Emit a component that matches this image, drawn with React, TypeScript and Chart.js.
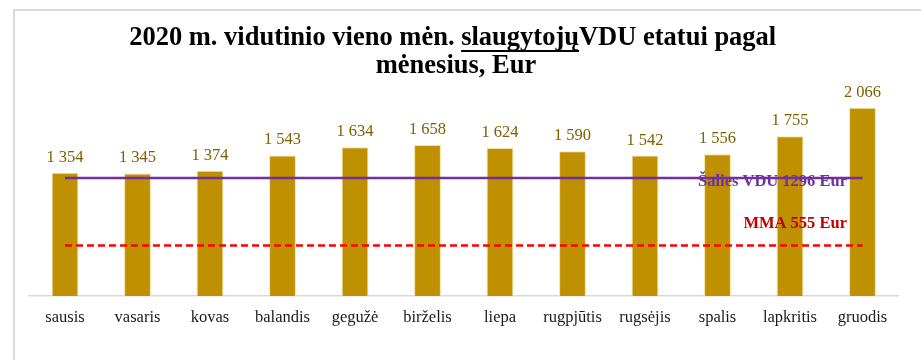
import React, { useEffect, useRef } from "react";
import { Chart, registerables } from "chart.js";

Chart.register(...registerables);

// Months of 2020
const months = [
  "sausis", "vasaris", "kovas", "balandis", "gegužė", "birželis",
  "liepa", "rugpjūtis", "rugsėjis", "spalis", "lapkritis", "gruodis",
];

// Average monthly nurse pay per full-time position, Eur
const nursePay = [1354, 1345, 1374, 1543, 1634, 1658, 1624, 1590, 1542, 1556, 1755, 2066];

// Reference levels
const nationalAvgWage = 1296; // Šalies VDU
const minimumWage = 555; // MMA

const titlePrefix = "2020 m. vidutinio vieno mėn. ";
const titleUnderlined = "slaugytojų";
const titleSuffix = "VDU etatui pagal ";
const titleLine2 = "mėnesius, Eur";

const SERIF = "'Liberation Serif', 'Times New Roman', serif";

const fmt = (v: number) => String(v).replace(/\B(?=(\d{3})+(?!\d))/g, " ");

const framePlugin = {
  id: "frame",
  beforeDraw(chart: any) {
    const { ctx, width, height } = chart;
    ctx.save();
    ctx.fillStyle = "#ffffff";
    ctx.fillRect(0, 0, width, height);
    ctx.strokeStyle = "#d9d9d9";
    ctx.lineWidth = 2;
    ctx.beginPath();
    ctx.moveTo(14, height);
    ctx.lineTo(14, 10);
    ctx.lineTo(width, 10);
    ctx.stroke();
    ctx.restore();
  },
};

const titlePlugin = {
  id: "richTitle",
  afterDraw(chart: any) {
    const { ctx } = chart;
    const cx = 456;
    ctx.save();
    ctx.font = `bold 26.5px ${SERIF}`;
    ctx.fillStyle = "#000000";
    ctx.textBaseline = "alphabetic";
    ctx.textAlign = "left";
    const wp = ctx.measureText(titlePrefix).width;
    const wu = ctx.measureText(titleUnderlined).width;
    const ws = ctx.measureText(titleSuffix).width;
    const x0 = cx - (wp + wu + ws) / 2;
    const base1 = 45;
    ctx.fillText(titlePrefix, x0, base1);
    ctx.fillText(titleUnderlined, x0 + wp, base1);
    ctx.fillText(titleSuffix, x0 + wp + wu, base1);
    ctx.fillRect(x0 + wp, base1 + 5, wu, 2);
    ctx.textAlign = "center";
    ctx.fillText(titleLine2, cx, 73);
    ctx.restore();
  },
};

const labelsPlugin = {
  id: "valueLabels",
  afterDatasetsDraw(chart: any) {
    const { ctx } = chart;
    ctx.save();
    // bar values
    const barMeta = chart.getDatasetMeta(2);
    ctx.font = `16.5px ${SERIF}`;
    ctx.fillStyle = "#7f6000";
    ctx.textAlign = "center";
    ctx.textBaseline = "alphabetic";
    barMeta.data.forEach((el: any, i: number) => {
      ctx.fillText(fmt(nursePay[i]), el.x, el.y - 11);
    });
    // reference line captions
    const y = chart.scales.y;
    const xRight = 847;
    ctx.textAlign = "right";
    ctx.font = `bold 16.5px ${SERIF}`;
    ctx.fillStyle = "#7030a0";
    ctx.fillText(`Šalies VDU ${nationalAvgWage} Eur`, xRight, y.getPixelForValue(nationalAvgWage) + 8);
    ctx.fillStyle = "#c00000";
    ctx.fillText(`MMA ${minimumWage} Eur`, xRight, y.getPixelForValue(minimumWage) - 17);
    ctx.restore();
  },
};

export default function App() {
  const ref = useRef<HTMLCanvasElement | null>(null);

  useEffect(() => {
    if (!ref.current) return;
    const chart = new Chart(ref.current, {
      type: "bar",
      data: {
        labels: months,
        datasets: [
          {
            type: "line",
            label: "Šalies VDU",
            data: months.map(() => nationalAvgWage),
            borderColor: "#7030a0",
            borderWidth: 2.5,
            pointRadius: 0,
            order: 0,
          },
          {
            type: "line",
            label: "MMA",
            data: months.map(() => minimumWage),
            borderColor: "#ff0000",
            borderWidth: 2.5,
            borderDash: [7, 4],
            pointRadius: 0,
            order: 1,
          },
          {
            type: "bar",
            label: "Slaugytojų VDU",
            data: nursePay,
            backgroundColor: "#bf9000",
            borderColor: "rgba(242, 220, 150, 0.9)",
            borderWidth: 1,
            categoryPercentage: 1,
            barPercentage: 0.37,
            order: 2,
          },
        ],
      } as any,
      options: {
        animation: false,
        responsive: false,
        layout: { padding: { top: 95.6, bottom: 20.2, left: 28.75, right: 22.25 } },
        plugins: {
          legend: { display: false },
          title: { display: false },
          tooltip: { enabled: false },
        },
        scales: {
          x: {
            grid: { display: false, drawTicks: false },
            border: { display: true, color: "#d9d9d9", width: 1.5 },
            ticks: {
              padding: 12,
              color: "#1a1a1a",
              font: { family: SERIF, size: 16.5 },
              maxRotation: 0,
              autoSkip: false,
            },
          },
          y: {
            display: false,
            min: 0,
            max: 2200,
          },
        },
      },
      plugins: [framePlugin, labelsPlugin, titlePlugin],
    });
    return () => chart.destroy();
  }, []);

  return (
    <div style={{ position: "fixed", left: 0, top: 0, width: 921, height: 360, background: "#fff" }}>
      <canvas ref={ref} width={921} height={360} style={{ display: "block", width: 921, height: 360 }} />
    </div>
  );
}
